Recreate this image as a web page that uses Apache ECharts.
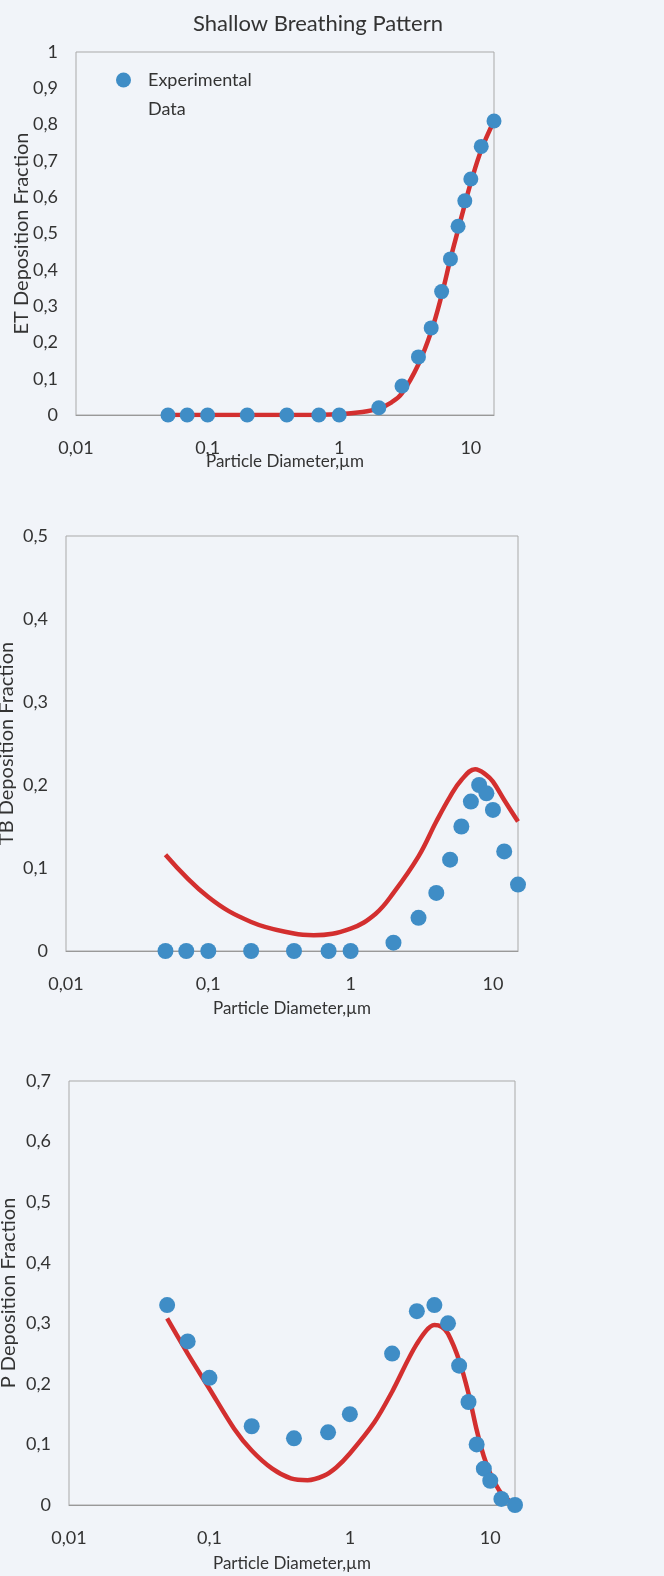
<!DOCTYPE html>
<html><head><meta charset="utf-8">
<script src="https://cdn.jsdelivr.net/npm/echarts@6/dist/echarts.min.js"></script>
<style>html,body{margin:0;padding:0;background:#f1f4f9;}#c{width:664px;height:1576px;}</style>
</head><body><div id="c"></div>
<script>
const xExp = [0.05,0.07,0.1,0.2,0.4,0.7,1,2,3,4,5,6,7,8,9,10,12,15];
const etExp = [0,0,0,0,0,0,0,0.02,0.08,0.16,0.24,0.34,0.43,0.52,0.59,0.65,0.74,0.81];
const tbExp = [0,0,0,0,0,0,0,0.01,0.04,0.07,0.11,0.15,0.18,0.20,0.19,0.17,0.12,0.08];
const pExp = [0.33,0.27,0.21,0.13,0.11,0.12,0.15,0.25,0.32,0.33,0.30,0.23,0.17,0.10,0.06,0.04,0.01,0];

const xEtModel = [0.05,0.1,0.2,0.5,1,1.5,2,2.5,3,4,5,6,7,8,9,10,12,15];
const etModel = [0,0,0,0,0.002,0.008,0.018,0.035,0.06,0.14,0.23,0.33,0.43,0.51,0.58,0.64,0.73,0.81];
const xTbModel = [0.05,0.1,0.2,0.4,0.55,1,1.5,2,3,4,5,6,7.5,9,10,12,15];
const tbModel = [0.116,0.065,0.035,0.021,0.019,0.027,0.045,0.07,0.114,0.156,0.186,0.206,0.219,0.212,0.204,0.182,0.156];
const xPModel = [0.05,0.07,0.1,0.15,0.2,0.28,0.38,0.5,0.65,0.8,1,1.5,2,3,4,4.5,5,6,7,8,9,10,12,15];
const pModel = [0.308,0.25,0.192,0.126,0.09,0.06,0.044,0.041,0.048,0.062,0.085,0.137,0.187,0.266,0.297,0.294,0.283,0.239,0.184,0.124,0.08,0.052,0.019,0];

const yNames = ['ET Deposition Fraction','TB Deposition Fraction','P Deposition Fraction'];
const yMaxes = [1, 0.5, 0.7];
const xName = 'Particle Diameter,\u00b5m';
const titleText = 'Shallow Breathing Pattern';
const legendName = 'Experimental Data';

const zip = (a, b) => a.map((v, i) => [v, b[i]]);
const comma = v => String(+v.toFixed(2)).replace('.', ',');
const FONT = 'Lato, "Open Sans", sans-serif';
const TXT = '#333';
const BLUE = '#3f8dc6';
const RED = '#d32f2f';

const grids = [
  {left: 76, top: 52, width: 418, height: 363},
  {left: 66, top: 536, width: 452, height: 415},
  {left: 69, top: 1081, width: 446, height: 424}
];
const xGaps = [38, 49, 50];
const yGaps = [44, 49, 50];

const option = {
  backgroundColor: '#f1f4f9',
  animation: false,
  title: {text: titleText, left: 313, top: 8, textAlign: 'center',
    textStyle: {fontFamily: FONT, fontSize: 22, fontWeight: 'normal', color: TXT}},
  legend: {data: [legendName], left: 116, top: 42, padding: 0, itemWidth: 15, itemHeight: 15,
    formatter: () => '{a|}\n{a|Experimental}\n{a|Data}',
    textStyle: {fontFamily: FONT, fontSize: 18, color: TXT,
      rich: {a: {fontFamily: FONT, fontSize: 18, color: TXT, lineHeight: 29, padding: [0, 0, 0, 12]}}}},
  grid: grids.map(g => Object.assign({show: true, borderColor: '#a9a9a9', borderWidth: 1, backgroundColor: 'transparent', containLabel: false, outerBoundsMode: 'none'}, g)),
  xAxis: grids.map((g, i) => ({
    type: 'log', logBase: 10, gridIndex: i, min: 0.01, max: 15,
    name: xName, nameLocation: 'middle', nameGap: xGaps[i], nameMoveOverlap: false,
    nameTextStyle: {fontFamily: FONT, fontSize: 17, color: TXT},
    axisLine: {show: true, lineStyle: {color: '#999', width: 1}},
    axisTick: {show: false}, splitLine: {show: false}, minorTick: {show: false},
    axisLabel: {fontFamily: FONT, fontSize: 18, color: TXT, margin: 24, showMaxLabel: false,
      formatter: v => comma(v)}
  })),
  yAxis: grids.map((g, i) => ({
    type: 'value', gridIndex: i, min: 0, max: yMaxes[i], interval: 0.1,
    name: yNames[i], nameLocation: 'middle', nameGap: yGaps[i], nameMoveOverlap: false,
    nameTextStyle: {fontFamily: FONT, fontSize: 20, color: TXT},
    axisLine: {show: false}, axisTick: {show: false}, splitLine: {show: false},
    axisLabel: {fontFamily: FONT, fontSize: 18, color: TXT, margin: 18, formatter: v => comma(v)}
  })),
  series: [
    {type: 'line', name: 'Model ET', xAxisIndex: 0, yAxisIndex: 0, data: zip(xEtModel, etModel), smooth: 0.4, showSymbol: false, lineStyle: {color: RED, width: 4.5}, z: 2},
    {type: 'line', name: 'Model TB', xAxisIndex: 1, yAxisIndex: 1, data: zip(xTbModel, tbModel), smooth: 0.4, showSymbol: false, lineStyle: {color: RED, width: 4.5}, z: 2},
    {type: 'line', name: 'Model P', xAxisIndex: 2, yAxisIndex: 2, data: zip(xPModel, pModel), smooth: 0.3, showSymbol: false, lineStyle: {color: RED, width: 4.5}, z: 2},
    {type: 'scatter', name: legendName, xAxisIndex: 0, yAxisIndex: 0, data: zip(xExp, etExp), symbolSize: 15, itemStyle: {color: BLUE, opacity: 1}, clip: false, z: 3},
    {type: 'scatter', name: 'TB exp', xAxisIndex: 1, yAxisIndex: 1, data: zip(xExp, tbExp), symbolSize: 16, itemStyle: {color: BLUE, opacity: 1}, clip: false, z: 3},
    {type: 'scatter', name: 'P exp', xAxisIndex: 2, yAxisIndex: 2, data: zip(xExp, pExp), symbolSize: 16, itemStyle: {color: BLUE, opacity: 1}, clip: false, z: 3}
  ]
};
const chart = echarts.init(document.getElementById('c'), null, {renderer: 'canvas'});
chart.setOption(option);
</script></body></html>
